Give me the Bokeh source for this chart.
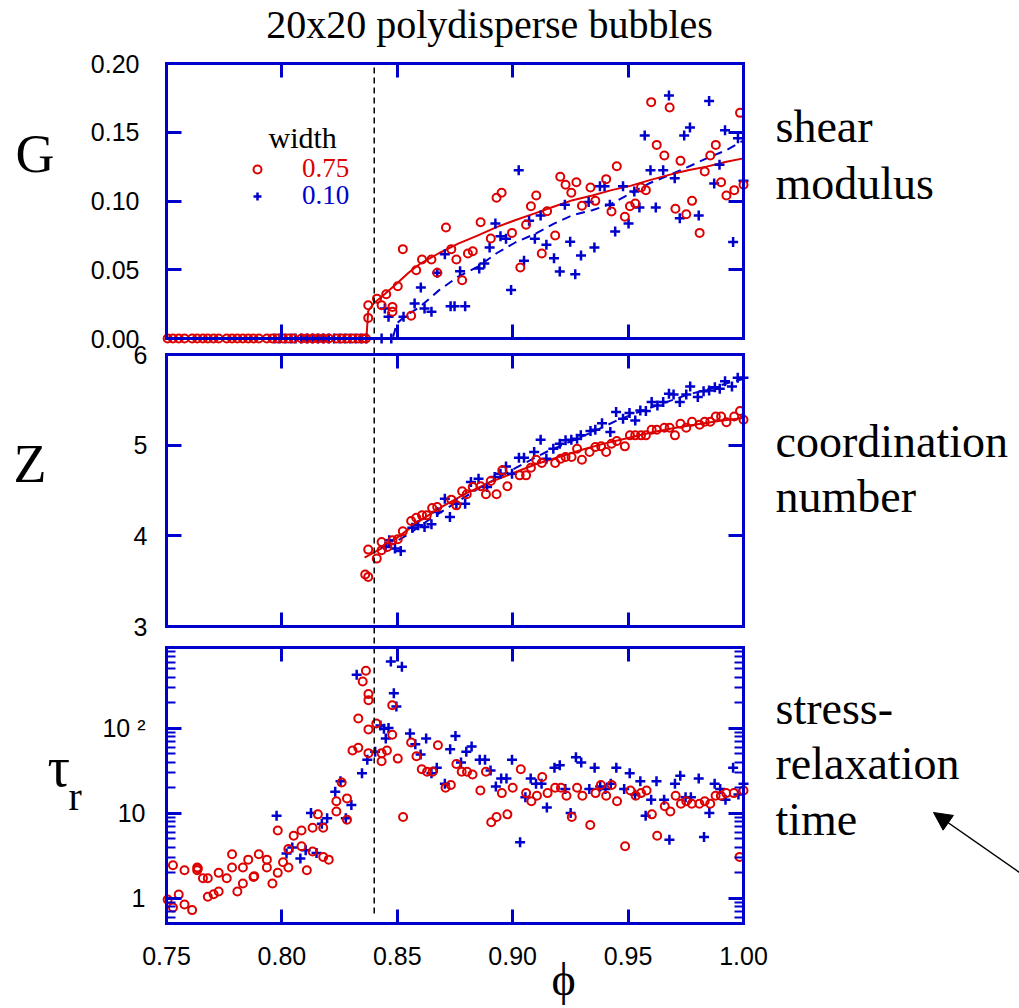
import math
from bokeh.plotting import figure
from bokeh.models import (LinearAxis, LogAxis, FixedTicker, Range1d, Label, LogScale, LinearScale,
                          Arrow, NormalHead, Legend, LegendItem, NumeralTickFormatter)
from bokeh.embed import file_html
from bokeh.resources import INLINE

RED = "#dd0000"
BLUE = "#0000cc"
SERIF = "Liberation Serif"
SANS = "Liberation Sans"

# ---------------- axes / ticks ----------------
PHI_MIN, PHI_MAX = 0.75, 1.00
phi_ticks = [0.75, 0.80, 0.85, 0.90, 0.95, 1.00]
G_MIN, G_MAX = 0.0, 0.2
g_ticks = [0.00, 0.05, 0.10, 0.15, 0.20]
Z_MIN, Z_MAX = 3.0, 6.0
z_ticks = [3, 4, 5, 6]
TAU_MIN, TAU_MAX = 0.508, 889.0
tau_ticks = [1, 10, 100]
tau_minor_ticks = [0.6, 0.7, 0.8, 0.9, 2, 3, 4, 5, 6, 7, 8, 9,
                   20, 30, 40, 50, 60, 70, 80, 90, 200, 300, 400, 500, 600, 700, 800]
tau_tick_labels = {1: "1", 10: "10", 100: "10 \u00b2"}
phi_jam = 0.84

# ---------------- G (shear modulus) ----------------
G_red_zero_phi = [0.7505, 0.7528, 0.7553, 0.7578, 0.7611, 0.7633, 0.7658, 0.7679, 0.7704, 0.7726,
                  0.7761, 0.7784, 0.7807, 0.7831, 0.7854, 0.7877, 0.7900, 0.7935, 0.7959, 0.7982,
                  0.8005, 0.8028, 0.8051, 0.8085, 0.8108, 0.8133, 0.8156, 0.8179, 0.8203, 0.8236,
                  0.8259, 0.8282, 0.8306, 0.8331, 0.8350, 0.8364]
G_red_zero = [0.0, 0.0, 0.0, 0.0, 0.0, 0.0, 0.0, 0.0, 0.0, 0.0,
              0.0, 0.0, 0.0, 0.0, 0.0, 0.0, 0.0, 0.0, 0.0, 0.0,
              0.0, 0.0, 0.0, 0.0, 0.0, 0.0, 0.0, 0.0, 0.0, 0.0,
              0.0, 0.0, 0.0, 0.0, 0.0, 0.0]
G_red_phi = [0.8374, 0.8374, 0.8412, 0.8432, 0.8452, 0.8479, 0.8479, 0.8502, 0.8524, 0.8560,
             0.8582, 0.8607, 0.8648, 0.8673, 0.8711, 0.8734, 0.8756, 0.8781, 0.8806, 0.8827,
             0.8861, 0.8905, 0.8930, 0.8952, 0.8997, 0.9033, 0.9058, 0.9079, 0.9102, 0.9126,
             0.9149, 0.9184, 0.9206, 0.9229, 0.9254, 0.9276, 0.9300, 0.9337, 0.9358, 0.9405,
             0.9428, 0.9451, 0.9486, 0.9508, 0.9531, 0.9556, 0.9577, 0.9600, 0.9624, 0.9657,
             0.9680, 0.9705, 0.9727, 0.9752, 0.9777, 0.9810, 0.9832, 0.9856, 0.9880, 0.9903,
             0.9926, 0.9960, 0.9985, 1.0000]
G_red = [0.0150, 0.0242, 0.0290, 0.0242, 0.0322, 0.0230, 0.0194, 0.0380, 0.0650, 0.0165,
         0.0497, 0.0575, 0.0575, 0.0478, 0.0807, 0.0650, 0.0575, 0.0424, 0.0618, 0.0635,
         0.0846, 0.0727, 0.1023, 0.1060, 0.0768, 0.0516, 0.0827, 0.0962, 0.1040, 0.0618,
         0.0926, 0.0749, 0.1176, 0.1118, 0.1060, 0.1137, 0.0965, 0.1098, 0.1001, 0.1159,
         0.0924, 0.1253, 0.0885, 0.0962, 0.0982, 0.1098, 0.1079, 0.1719, 0.1408, 0.1331,
         0.1680, 0.0943, 0.1292, 0.0904, 0.1001, 0.0768, 0.1215, 0.1331, 0.1408, 0.1137,
         0.1040, 0.1079, 0.1641, 0.1118]
G_blue_zero_phi = [0.7968, 0.7990, 0.8015, 0.8040, 0.8059, 0.8084, 0.8110, 0.8133, 0.8156, 0.8180,
                   0.8203, 0.8226, 0.8250, 0.8273, 0.8296, 0.8320, 0.8343, 0.8366, 0.8432, 0.8474]
G_blue_zero = [0.0, 0.0, 0.0, 0.0, 0.0, 0.0, 0.0, 0.0, 0.0, 0.0,
               0.0, 0.0, 0.0, 0.0, 0.0, 0.0, 0.0, 0.0, 0.0, 0.0]
G_blue_phi = [0.8446, 0.8462, 0.8527, 0.8575, 0.8602, 0.8618, 0.8648, 0.8673, 0.8706, 0.8731,
              0.8748, 0.8772, 0.8794, 0.8855, 0.8877, 0.8900, 0.8925, 0.8947, 0.8971, 0.8993,
              0.9026, 0.9049, 0.9071, 0.9096, 0.9121, 0.9146, 0.9179, 0.9204, 0.9226, 0.9249,
              0.9271, 0.9296, 0.9329, 0.9354, 0.9378, 0.9398, 0.9421, 0.9444, 0.9478, 0.9502,
              0.9527, 0.9549, 0.9572, 0.9597, 0.9620, 0.9652, 0.9677, 0.9702, 0.9724, 0.9743,
              0.9768, 0.9806, 0.9851, 0.9873, 0.9896, 0.9920, 0.9955, 0.9976, 1.0000]
G_blue = [0.0218, 0.0158, 0.0158, 0.0255, 0.0371, 0.0218, 0.0194, 0.0478, 0.0613, 0.0235,
          0.0235, 0.0490, 0.0235, 0.0509, 0.0545, 0.0662, 0.0836, 0.0744, 0.0725, 0.0352,
          0.1224, 0.0565, 0.0856, 0.0725, 0.0895, 0.0681, 0.0584, 0.0487, 0.0972, 0.0703,
          0.0468, 0.0604, 0.0992, 0.0662, 0.1108, 0.1108, 0.0972, 0.0778, 0.1108, 0.0836,
          0.1069, 0.0953, 0.1476, 0.1224, 0.0953, 0.1224, 0.1767, 0.1166, 0.0875, 0.1476,
          0.1535, 0.0895, 0.1728, 0.1127, 0.1263, 0.1515, 0.0701, 0.1457, 0.1147]
G_red_fit_phi = [0.75, 0.8366, 0.8374, 0.8400, 0.8430, 0.8498, 0.8550, 0.8600, 0.8680, 0.8764,
                 0.8850, 0.8930, 0.9010, 0.9096, 0.9180, 0.9260, 0.9345, 0.9428, 0.9510, 0.9590,
                 0.9677, 0.9760, 0.9840, 0.9926, 1.0]
G_red_fit = [0.0, 0.0, 0.020, 0.026, 0.030, 0.040, 0.048, 0.0545, 0.062, 0.069,
             0.075, 0.081, 0.086, 0.091, 0.096, 0.1006, 0.104, 0.1079, 0.111, 0.115,
             0.119, 0.1224, 0.125, 0.1285, 0.131]
G_blue_fit_phi = [0.7968, 0.8480, 0.8498, 0.8531, 0.8598, 0.8680, 0.8764, 0.8847, 0.8930, 0.9013,
                  0.9096, 0.9179, 0.9260, 0.9345, 0.9428, 0.9510, 0.9590, 0.9677, 0.9760, 0.9840,
                  0.9926, 1.0]
G_blue_fit = [0.0, 0.0, 0.011, 0.0158, 0.023, 0.035, 0.045, 0.052, 0.062, 0.070,
              0.076, 0.0836, 0.0897, 0.0933, 0.098, 0.1055, 0.1127, 0.1188, 0.1248, 0.131,
              0.137, 0.144]

# ---------------- Z (coordination number) ----------------
Z_red_phi = [0.8361, 0.8374, 0.8374, 0.8411, 0.8432, 0.8432, 0.8457, 0.8479, 0.8502, 0.8524,
             0.8560, 0.8582, 0.8607, 0.8628, 0.8651, 0.8673, 0.8734, 0.8756, 0.8781, 0.8801,
             0.8827, 0.8861, 0.8884, 0.8905, 0.8930, 0.8955, 0.8977, 0.9030, 0.9058, 0.9079,
             0.9102, 0.9126, 0.9184, 0.9208, 0.9229, 0.9255, 0.9279, 0.9300, 0.9333, 0.9358,
             0.9383, 0.9405, 0.9428, 0.9451, 0.9486, 0.9508, 0.9531, 0.9556, 0.9577, 0.9602,
             0.9624, 0.9657, 0.9680, 0.9703, 0.9727, 0.9752, 0.9777, 0.9810, 0.9832, 0.9856,
             0.9880, 0.9903, 0.9926, 0.9960, 0.9985, 1.0000]
Z_red = [3.573, 3.547, 3.848, 3.749, 3.841, 3.932, 3.877, 3.950, 3.962, 4.050,
         4.164, 4.200, 4.226, 4.226, 4.307, 4.318, 4.399, 4.336, 4.491, 4.458,
         4.538, 4.546, 4.458, 4.604, 4.458, 4.722, 4.546, 4.667, 4.667, 4.751,
         4.840, 4.803, 4.803, 4.851, 4.869, 4.869, 4.961, 4.840, 4.924, 4.979,
         4.987, 4.924, 5.015, 5.045, 4.987, 5.108, 5.108, 5.108, 5.108, 5.170,
         5.170, 5.192, 5.192, 5.108, 5.236, 5.192, 5.258, 5.225, 5.258, 5.258,
         5.317, 5.317, 5.254, 5.317, 5.376, 5.280]
Z_blue_phi = [0.8449, 0.8465, 0.8490, 0.8515, 0.8565, 0.8590, 0.8618, 0.8648, 0.8673, 0.8706,
              0.8728, 0.8756, 0.8794, 0.8819, 0.8852, 0.8889, 0.8922, 0.8947, 0.8971, 0.8997,
              0.9027, 0.9049, 0.9093, 0.9121, 0.9146, 0.9176, 0.9204, 0.9229, 0.9254, 0.9279,
              0.9295, 0.9337, 0.9358, 0.9387, 0.9423, 0.9448, 0.9478, 0.9506, 0.9531, 0.9553,
              0.9577, 0.9602, 0.9627, 0.9652, 0.9677, 0.9697, 0.9724, 0.9752, 0.9769, 0.9802,
              0.9827, 0.9851, 0.9876, 0.9897, 0.9920, 0.9950, 0.9975, 1.0000]
Z_blue = [3.877, 3.950, 3.859, 3.833, 4.090, 4.116, 4.098, 4.127, 4.263, 4.410,
          4.208, 4.355, 4.355, 4.594, 4.630, 4.538, 4.650, 4.685, 4.766, 4.685,
          4.862, 4.862, 4.924, 5.060, 4.851, 4.961, 5.016, 5.053, 5.060, 5.071,
          5.108, 5.155, 5.170, 5.243, 5.144, 5.365, 5.291, 5.354, 5.273, 5.383,
          5.376, 5.475, 5.438, 5.475, 5.567, 5.559, 5.475, 5.559, 5.647, 5.530,
          5.596, 5.604, 5.640, 5.622, 5.706, 5.647, 5.743, 5.743]
Z_red_fit_phi = [0.8358, 0.8430, 0.8500, 0.8600, 0.8700, 0.8800, 0.8900, 0.9000, 0.9100, 0.9200,
                 0.9300, 0.9400, 0.9500, 0.9600, 0.9700, 0.9800, 0.9900, 1.0]
Z_red_fit = [3.76, 3.86, 3.98, 4.17, 4.33, 4.47, 4.59, 4.69, 4.79, 4.87,
             4.95, 5.02, 5.08, 5.14, 5.19, 5.23, 5.27, 5.30]
Z_blue_fit_phi = [0.845, 0.855, 0.865, 0.875, 0.885, 0.895, 0.905, 0.915, 0.925, 0.935,
                  0.945, 0.955, 0.965, 0.975, 0.985, 0.995, 1.0]
Z_blue_fit = [3.87, 4.02, 4.20, 4.36, 4.52, 4.66, 4.80, 4.93, 5.04, 5.15,
              5.27, 5.37, 5.46, 5.55, 5.62, 5.70, 5.73]

# ---------------- tau_r (stress-relaxation time) ----------------
tau_red_phi = [0.7505, 0.7528, 0.7528, 0.7553, 0.7578, 0.7578, 0.7611, 0.7633, 0.7633, 0.7658,
               0.7679, 0.7679, 0.7704, 0.7726, 0.7726, 0.7761, 0.7784, 0.7784, 0.7807, 0.7831,
               0.7831, 0.7854, 0.7877, 0.7900, 0.7935, 0.7935, 0.7959, 0.7982, 0.7982, 0.8005,
               0.8028, 0.8028, 0.8051, 0.8085, 0.8085, 0.8108, 0.8133, 0.8133, 0.8156, 0.8179,
               0.8179, 0.8203, 0.8236, 0.8236, 0.8259, 0.8282, 0.8282, 0.8306, 0.8331, 0.8331,
               0.8350, 0.8364, 0.8375, 0.8375, 0.8375, 0.8375, 0.8409, 0.8432, 0.8432, 0.8455,
               0.8478, 0.8478, 0.8502, 0.8525, 0.8560, 0.8583, 0.8606, 0.8629, 0.8653, 0.8676,
               0.8709, 0.8732, 0.8756, 0.8779, 0.8802, 0.8826, 0.8860, 0.8884, 0.8907, 0.8930,
               0.8953, 0.8977, 0.9000, 0.9035, 0.9058, 0.9081, 0.9105, 0.9128, 0.9151, 0.9184,
               0.9209, 0.9233, 0.9256, 0.9279, 0.9302, 0.9336, 0.9359, 0.9382, 0.9405, 0.9429,
               0.9452, 0.9487, 0.9510, 0.9533, 0.9556, 0.9580, 0.9603, 0.9626, 0.9659, 0.9683,
               0.9706, 0.9729, 0.9752, 0.9776, 0.9809, 0.9832, 0.9856, 0.9879, 0.9902, 0.9925,
               0.9958, 0.9983, 1.0000, 0.7636, 0.7880]
tau_red = [0.97, 0.785, 2.46, 1.11, 0.85, 2.15, 0.73, 2.31, 2.15, 1.73,
           1.05, 1.73, 1.12, 1.21, 2.0, 1.73, 3.31, 2.31, 1.21, 2.31,
           1.5, 2.86, 1.79, 3.31, 2.86, 2.31, 1.5, 6.3, 2.0, 2.67,
           2.31, 3.82, 5.47, 6.3, 4.1, 2.15, 6.79, 3.56, 9.73, 6.79,
           3.08, 2.86, 10.5, 13.9, 23.1, 15.0, 8.43, 54.7, 58.9, 130,
           355, 474, 252, 214, 97, 51, 114, 51, 41, 54.7,
           186, 84, 44, 9.06, 68, 47, 33, 30.8, 30.8, 63,
           20, 21.5, 38, 30.8, 30.8, 28.6, 18.6, 30.8, 7.85, 9.06,
           17.3, 9.73, 20, 33, 17.3, 13.9, 16.1, 26.7, 17.3, 20,
           20, 16.1, 9.06, 20, 16.1, 7.3, 17.3, 21.5, 16.1, 21.5,
           13.9, 4.1, 18.6, 16.1, 17.3, 18.6, 9.73, 5.47, 12.1, 10.5,
           16.1, 13.0, 13.9, 13.0, 13.0, 13.9, 13.0, 16.1, 16.1, 17.3,
           17.3, 3.08, 18.6, 2.25, 1.83]
tau_blue_phi = [0.7977, 0.8020, 0.8045, 0.8080, 0.8103, 0.8126, 0.8150, 0.8173, 0.8196, 0.8231,
                0.8254, 0.8277, 0.8301, 0.8324, 0.8347, 0.8370, 0.8404, 0.8427, 0.8442, 0.8450,
                0.8462, 0.8472, 0.8485, 0.8496, 0.8520, 0.8555, 0.8578, 0.8601, 0.8625, 0.8648,
                0.8671, 0.8706, 0.8729, 0.8752, 0.8776, 0.8799, 0.8822, 0.8857, 0.8880, 0.8904,
                0.8927, 0.8950, 0.8973, 0.8997, 0.9032, 0.9055, 0.9078, 0.9101, 0.9125, 0.9148,
                0.9181, 0.9204, 0.9228, 0.9251, 0.9274, 0.9297, 0.9332, 0.9355, 0.9379, 0.9402,
                0.9425, 0.9449, 0.9483, 0.9507, 0.9530, 0.9553, 0.9576, 0.9600, 0.9623, 0.9656,
                0.9679, 0.9703, 0.9726, 0.9749, 0.9772, 0.9806, 0.9829, 0.9852, 0.9875, 0.9899,
                0.9922, 0.9955, 0.9978, 1.0000]
tau_blue = [9.4, 3.37, 3.96, 2.94, 3.68, 10.1, 3.43, 7.57, 8.74, 17.9,
            23.9, 8.74, 12.5, 425, 29.7, 42.6, 52.8, 108, 99, 75.7,
            101, 610, 257, 180, 528, 87, 65, 49, 75.7, 29.7,
            34.3, 22.3, 56.7, 81, 39.6, 52.8, 61, 42.6, 42.6, 31.9,
            20.7, 25.7, 25.7, 42.6, 4.57, 15.5, 25.7, 22.3, 22.3, 11.7,
            34.3, 36.8, 19.3, 10.1, 45.7, 39.6, 19.3, 34.3, 20.7, 19.3,
            22.3, 34.3, 19.3, 29.7, 16.7, 23.9, 9.4, 14.5, 23.9, 14.5,
            4.91, 22.3, 27.6, 15.5, 15.5, 25.7, 5.28, 10.1, 22.3, 19.3,
            14.5, 34.3, 16.7, 22.3]

# ---------------- page geometry (pixels, from top-left) ----------------
W, H = 1019, 1008
X_LEFT, X_RIGHT = 166, 743          # panel left / right edges
G_TOP, G_BOT = 63, 338              # panel 1
Z_TOP, Z_BOT = 354, 626             # panel 2
T_TOP, T_BOT = 647, 923             # panel 3

px_per_phi = (X_RIGHT - X_LEFT) / (PHI_MAX - PHI_MIN)


def phi_at(px):
    return PHI_MIN + (px - X_LEFT) / px_per_phi


def lin_range(lo, hi, py_lo, py_hi):
    per = (hi - lo) / (py_lo - py_hi)
    return Range1d(lo - (H - py_lo) * per, hi + py_hi * per), per


g_range, g_per = lin_range(G_MIN, G_MAX, G_BOT, G_TOP)
z_range, z_per = lin_range(Z_MIN, Z_MAX, Z_BOT, Z_TOP)
lt_lo, lt_hi = math.log10(TAU_MIN), math.log10(TAU_MAX)
lt_per = (lt_hi - lt_lo) / (T_BOT - T_TOP)
tau_range = Range1d(10 ** (lt_lo - (H - T_BOT) * lt_per), 10 ** (lt_hi + T_TOP * lt_per))

p = figure(width=W, height=H, x_range=Range1d(phi_at(0), phi_at(W)), y_range=Range1d(0, H),
           x_axis_location=None, y_axis_location=None, toolbar_location=None,
           output_backend="svg", min_border=0, outline_line_color=None,
           background_fill_color="white", border_fill_color="white")
p.grid.visible = False
p.extra_y_ranges = {"g": g_range, "z": z_range, "tau": tau_range}
p.extra_y_scales = {"g": LinearScale(), "z": LinearScale(), "tau": LogScale()}


def style_axis(ax, show_labels, standoff=20, tick_in=15, minor_in=0):
    ax.axis_line_color = BLUE
    ax.axis_line_width = 3
    ax.axis_line_cap = "square"
    ax.major_tick_line_color = BLUE
    ax.major_tick_line_width = 3
    ax.major_tick_in = tick_in
    ax.major_tick_out = 0
    if minor_in:
        ax.minor_tick_line_color = BLUE
        ax.minor_tick_line_width = 2
        ax.minor_tick_in = minor_in
        ax.minor_tick_out = 0
    else:
        ax.minor_tick_line_color = None
    ax.major_label_text_font = SANS
    ax.major_label_text_font_size = "25px"
    ax.major_label_standoff = standoff
    ax.major_label_text_color = "black" if show_labels else None


def add_panel_axes(name, lo, hi, yticker, ystandoff, log=False, formatter=None,
                   overrides=None, x_labels=False, minor_in=0):
    for loc, fixed in (("below", lo), ("above", hi)):
        ax = LinearAxis(y_range_name=name, fixed_location=fixed, bounds=(PHI_MIN, PHI_MAX),
                        ticker=FixedTicker(ticks=phi_ticks),
                        formatter=NumeralTickFormatter(format="0.00"))
        style_axis(ax, show_labels=(x_labels and loc == "below"), standoff=23, tick_in=14)
        p.add_layout(ax, loc)
    for loc, fixed in (("left", PHI_MIN), ("right", PHI_MAX)):
        cls = LogAxis if log else LinearAxis
        kw = dict(y_range_name=name, fixed_location=fixed, bounds=(lo, hi), ticker=yticker)
        if formatter is not None:
            kw["formatter"] = formatter
        if overrides is not None:
            kw["major_label_overrides"] = overrides
        ax = cls(**kw)
        style_axis(ax, show_labels=(loc == "left"), standoff=ystandoff, minor_in=minor_in)
        p.add_layout(ax, loc)


BASE_SHIFT = 0.36   # empirical correction so that py is the visual baseline


def add_text(px, py, text, size, color="black", font=SERIF, align="left"):
    p.add_layout(Label(x=px, y=H - py + BASE_SHIFT * size, x_units="screen", y_units="screen",
                       text=text, text_font=font, text_font_size=f"{size}px",
                       text_color=color, text_align=align, text_baseline="alphabetic"))


# ---- panel 1: G ----
add_panel_axes("g", G_MIN, G_MAX, FixedTicker(ticks=g_ticks), 27,
               formatter=NumeralTickFormatter(format="0.00"))
p.line(G_blue_fit_phi, G_blue_fit, y_range_name="g", line_color=BLUE, line_width=2,
       line_dash="9 6")
p.line(G_red_fit_phi, G_red_fit, y_range_name="g", line_color=RED, line_width=2)
rb1 = p.scatter(G_blue_zero_phi + G_blue_phi, G_blue_zero + G_blue, y_range_name="g",
                marker="cross", size=10, line_color=BLUE, line_width=2.5)
rr1 = p.scatter(G_red_zero_phi + G_red_phi, G_red_zero + G_red, y_range_name="g",
                marker="circle", size=8, line_color=RED, line_width=2, fill_color=None)

# ---- panel 2: Z ----
add_panel_axes("z", Z_MIN, Z_MAX, FixedTicker(ticks=z_ticks), 19)
p.line(Z_blue_fit_phi, Z_blue_fit, y_range_name="z", line_color=BLUE, line_width=2,
       line_dash="9 6")
p.line(Z_red_fit_phi, Z_red_fit, y_range_name="z", line_color=RED, line_width=2)
p.scatter(Z_blue_phi, Z_blue, y_range_name="z", marker="cross", size=10,
          line_color=BLUE, line_width=2.5)
p.scatter(Z_red_phi, Z_red, y_range_name="z", marker="circle", size=8,
          line_color=RED, line_width=2, fill_color=None)

# ---- panel 3: tau ----
add_panel_axes("tau", TAU_MIN, TAU_MAX,
               FixedTicker(ticks=tau_ticks, minor_ticks=tau_minor_ticks), 21, log=True,
               overrides=tau_tick_labels, x_labels=True, minor_in=9)
p.scatter(tau_blue_phi, tau_blue, y_range_name="tau", marker="cross", size=10,
          line_color=BLUE, line_width=2.5)
p.scatter(tau_red_phi, tau_red, y_range_name="tau", marker="circle", size=8,
          line_color=RED, line_width=2, fill_color=None)

# ---- dashed line at the jamming point, running through all three panels ----
p.segment(x0=[phi_jam], y0=[G_MIN + (G_BOT - 67) * g_per], x1=[phi_jam],
          y1=[G_MIN - (917 - G_BOT) * g_per], y_range_name="g",
          line_color="black", line_width=1.5, line_dash="6 4")

# ---- legend (width of distribution) ----
for r, lab, col, row_c in ((rr1, "0.75", RED, 169), (rb1, "0.10", BLUE, 196)):
    p.add_layout(Legend(items=[LegendItem(label=lab, renderers=[r])],
                        location=(247, H - (row_c + 15)),
                        glyph_width=20, glyph_height=20, label_standoff=35,
                        label_text_font=SERIF, label_text_font_size="27px",
                        label_text_color=col, padding=0, margin=0, spacing=0,
                        background_fill_alpha=0, border_line_alpha=0))
add_text(268, 148, "width", 30)

# ---- titles and labels ----
add_text(489, 38, "20x20 polydisperse bubbles", 40, align="center")
add_text(15, 173, "G", 54)
add_text(13, 483, "Z", 54)
add_text(47, 787, "\u03c4", 56)
add_text(68, 810, "r", 40)
add_text(563, 996, "\u03d5", 46, align="center")
add_text(775, 143, "shear", 46)
add_text(775, 200, "modulus", 46)
add_text(775, 458, "coordination", 46)
add_text(775, 513, "number", 46)
add_text(775, 725, "stress-", 46)
add_text(775, 780, "relaxation", 46)
add_text(775, 836, "time", 46)

p.add_layout(Arrow(end=NormalHead(size=18, fill_color="black", line_color="black"),
                   x_start=W, y_start=H - 872, x_end=933, y_end=H - 812,
                   start_units="screen", end_units="screen",
                   line_color="black", line_width=1.5))

open("out.html", "w").write(file_html(p, INLINE))
